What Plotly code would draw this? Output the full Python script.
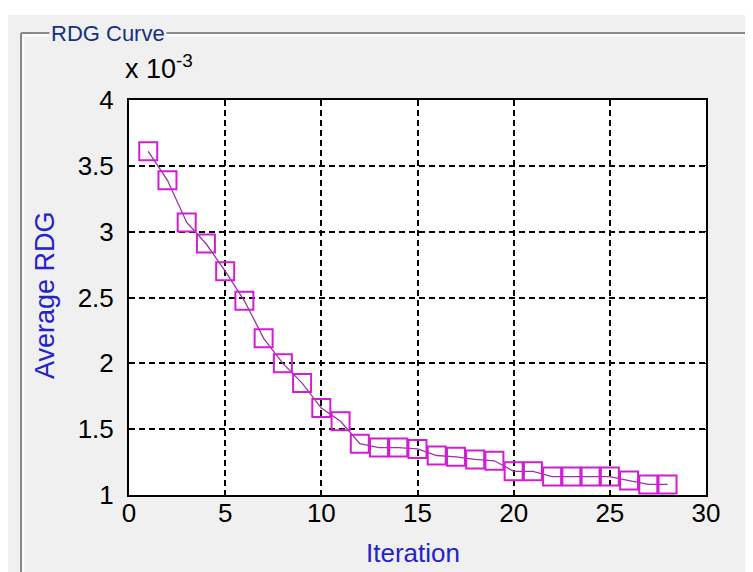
import plotly.graph_objects as go

iterations = list(range(1, 29))
avg_rdg = [0.00361, 0.00339, 0.00307, 0.00291, 0.00270, 0.002475, 0.00219, 0.00200,
           0.00185, 0.00166, 0.00156, 0.00139, 0.00136, 0.00136, 0.00135, 0.00130,
           0.00129, 0.00127, 0.00126, 0.00118, 0.00118, 0.00114, 0.00114, 0.00114,
           0.00114, 0.00111, 0.00108, 0.00108]
x_ticks = [0, 5, 10, 15, 20, 25, 30]
y_ticks = [0.001, 0.0015, 0.002, 0.0025, 0.003, 0.0035, 0.004]
y_tick_labels = ["1", "1.5", "2", "2.5", "3", "3.5", "4"]

W, H = 753, 572
L, R, T, B = 121, 55, 92, 85
pw, ph = W - L - R, H - T - B

def xp(px):
    return (px - L) / pw

def yp(py):
    return (H - B - py) / ph

FONT = "Liberation Sans, Arial, sans-serif"
BG = "#f0f0f0"

fig = go.Figure()
fig.add_trace(go.Scatter(
    x=iterations, y=avg_rdg, mode="lines+markers",
    line=dict(color="#a030a8", width=1.3),
    marker=dict(symbol="square-open", size=18, color="#d21ed2",
                line=dict(width=2, color="#d21ed2")),
    showlegend=False, hoverinfo="skip"))

axis_common = dict(
    showline=True, linecolor="black", linewidth=2, mirror="ticks",
    ticks="inside", ticklen=5, tickcolor="black", tickwidth=1,
    showgrid=True, gridcolor="black", gridwidth=1.8, griddash="6px,4px",
    zeroline=False, tickfont=dict(family=FONT, size=26, color="black"),
)

fig.update_layout(
    width=W, height=H,
    margin=dict(l=L, r=R, t=T, b=B, pad=0),
    paper_bgcolor=BG, plot_bgcolor="white",
    xaxis=dict(range=[0, 30], tickvals=x_ticks, ticklabelstandoff=-6, **axis_common),
    yaxis=dict(range=[0.001, 0.004], tickvals=y_ticks, ticktext=y_tick_labels,
               ticklabelstandoff=8, **axis_common),
    shapes=[
        dict(type="rect", xref="paper", yref="paper", x0=xp(-5), x1=xp(760),
             y0=yp(7), y1=yp(-5), fillcolor="white", line=dict(width=0), layer="below"),
        dict(type="line", xref="paper", yref="paper", x0=xp(13), x1=xp(760),
             y0=yp(25), y1=yp(25), line=dict(color="#8a8a8a", width=2)),
        dict(type="line", xref="paper", yref="paper", x0=xp(15), x1=xp(760),
             y0=yp(27.5), y1=yp(27.5), line=dict(color="white", width=1.5)),
        dict(type="line", xref="paper", yref="paper", x0=xp(13), x1=xp(13),
             y0=yp(25), y1=yp(580), line=dict(color="#8a8a8a", width=2)),
        dict(type="line", xref="paper", yref="paper", x0=xp(15.5), x1=xp(15.5),
             y0=yp(27.5), y1=yp(580), line=dict(color="white", width=1.5)),
    ],
    annotations=[
        dict(text="RDG Curve", xref="paper", yref="paper", x=xp(41), y=yp(25),
             xanchor="left", yanchor="middle", showarrow=False, bgcolor=BG,
             borderpad=1, font=dict(family=FONT, size=22, color="#15307e")),
        dict(text="x 10<sup>-3</sup>", xref="paper", yref="paper", x=xp(115), y=yp(78),
             xanchor="left", yanchor="bottom", showarrow=False,
             font=dict(family=FONT, size=27, color="black")),
        dict(text="Iteration", xref="paper", yref="paper", x=xp(405), y=yp(545),
             xanchor="center", yanchor="middle", showarrow=False,
             font=dict(family=FONT, size=26, color="#2323cc")),
        dict(text="Average RDG", xref="paper", yref="paper", x=xp(37), y=yp(287),
             xanchor="center", yanchor="middle", showarrow=False, textangle=-90,
             font=dict(family=FONT, size=27, color="#2323cc")),
    ],
)

fig.write_html("out.html")
